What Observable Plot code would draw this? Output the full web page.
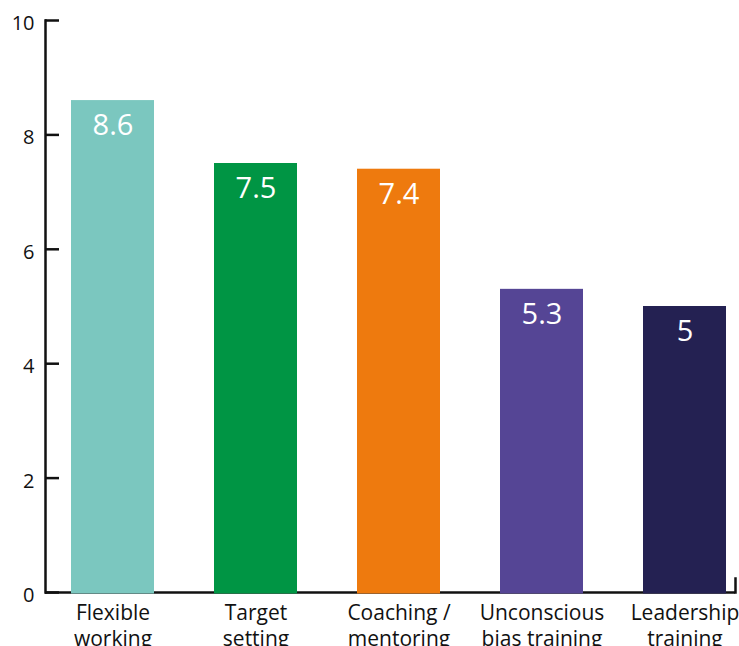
<!DOCTYPE html>
<html>
<head>
<meta charset="utf-8">
<script src="https://cdn.jsdelivr.net/npm/d3@7"></script>
<script src="https://cdn.jsdelivr.net/npm/@observablehq/plot@0.6"></script>
<style>
  html, body { margin: 0; padding: 0; background: #fff; }
  #chart svg { display: block; }
</style>
</head>
<body>
<div id="chart"></div>
<script>
const categories = ["Flexible working", "Target setting", "Coaching / mentoring", "Unconscious bias training", "Leadership training"];
const tickLabels = ["Flexible\nworking", "Target\nsetting", "Coaching /\nmentoring", "Unconscious\nbias training", "Leadership\ntraining"];
const values = [8.6, 7.5, 7.4, 5.3, 5];
const colors = ["#7bc7bf", "#009544", "#ee7a0e", "#554595", "#242152"];
const yTicks = [0, 2, 4, 6, 8, 10];

const data = categories.map((c, i) => ({category: c, value: values[i]}));
const labelOf = new Map(categories.map((c, i) => [c, tickLabels[i]]));

const chart = Plot.plot({
  width: 739,
  height: 646,
  marginTop: 20,
  marginBottom: 54,
  marginLeft: 45,
  marginRight: 4,
  style: {fontFamily: "'Open Sans', sans-serif", background: "#fff", color: "#111"},
  x: {domain: categories, range: [70, 727], paddingInner: 0.421, paddingOuter: 0},
  y: {domain: [0, 10]},
  color: {domain: categories, range: colors},
  marks: [
    Plot.ruleY([0], {stroke: "#111", strokeWidth: 2.5}),
    Plot.frame({anchor: "left", stroke: "#111", strokeWidth: 2.5}),
    Plot.frame({anchor: "right", insetTop: 558, stroke: "#111", strokeWidth: 2.5}),
    Plot.barY(data, {x: "category", y: "value", fill: "category", insetBottom: -1.5}),
    Plot.text(data, {x: "category", y: "value", text: d => String(d.value), fill: "white", fontSize: 29, dy: 25}),
    Plot.axisY(yTicks, {tickSize: -14, fill: "none", stroke: "#111", strokeWidth: 2.5, label: null}),
    Plot.axisY(yTicks, {tickSize: -14, tickPadding: 25, stroke: "none", fill: "#111", fontSize: 20, dy: 3, label: null, tickFormat: d => String(d)}),
    Plot.axisX({tickSize: 0, tickPadding: 10, fill: "#111", fontSize: 21, lineHeight: 1.2, tickFormat: d => labelOf.get(d), label: null})
  ]
});
document.getElementById("chart").append(chart);
</script>
</body>
</html>
